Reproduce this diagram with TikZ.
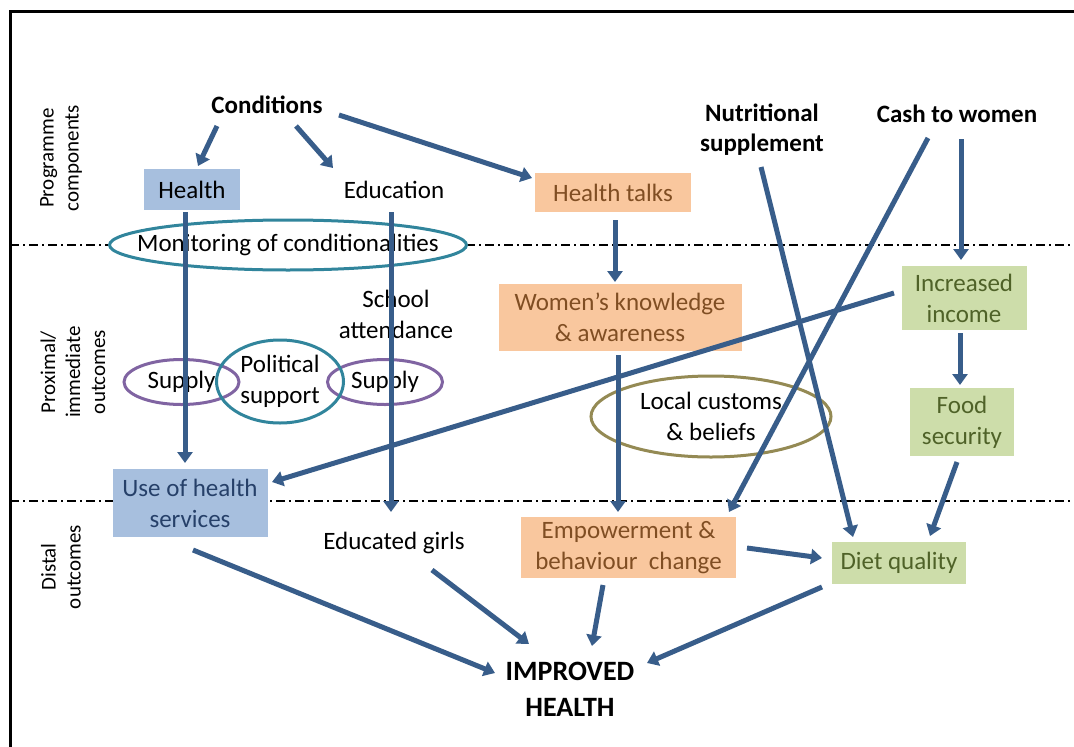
\documentclass[tikz,border=0pt]{standalone}
\usepackage{fontspec}
\setmainfont{Carlito}
\usetikzlibrary{arrows.meta, shapes.geometric}

\definecolor{flowblue}{RGB}{56,93,138}
\definecolor{hsfill}{RGB}{167,191,222}
\definecolor{hstext}{RGB}{38,64,105}
\definecolor{orfill}{RGB}{249,199,158}
\definecolor{ortext}{RGB}{128,78,35}
\definecolor{grfill}{RGB}{205,221,170}
\definecolor{grtext}{RGB}{79,98,40}
\definecolor{ringteal}{RGB}{49,133,156}
\definecolor{ringpurple}{RGB}{128,100,162}
\definecolor{ringolive}{RGB}{148,138,84}

\tikzset{
  flow/.style={draw=flowblue, line width=5pt, -{Triangle[length=11pt,width=15pt]}},
  plain/.style={align=center, inner sep=1pt, font=\fontsize{25}{31}\selectfont},
  strong/.style={plain, font=\fontsize{25}{30}\selectfont\bfseries},
  hsbox/.style={plain, fill=hsfill, text=hstext},
  orbox/.style={plain, fill=orfill, text=ortext},
  grbox/.style={plain, fill=grfill, text=grtext},
  ring/.style={ellipse, draw, line width=3pt, inner sep=0pt},
  ringtext/.style={align=center, font=\fontsize{25}{31}\selectfont},
  phase/.style={line width=1.5pt, dash pattern=on 9pt off 4pt on 2pt off 4pt},
  sidelabel/.style={rotate=90, align=center, font=\fontsize{21}{25}\selectfont},
}

\begin{document}
\begin{tikzpicture}[x=1pt, y=-1pt]
  \fill[white, use as bounding box] (0,0) rectangle (1074,747);
  % frame and phase lines
  \draw[line width=3pt] (10,747) -- (10,11.5) -- (1074,11.5);
  \draw[phase] (10,245) -- (1074,245);
  \draw[phase] (10,501) -- (1074,501);

  % side labels
  \node[sidelabel] (lblprog) at (61,158) {Programme\\components};
  \node[sidelabel] (lblprox) at (73,372) {Proximal/\\immediate\\outcomes};
  \node[sidelabel] (lbldist) at (61,567) {Distal\\outcomes};

  % programme components
  \node[strong] (cond) at (267,105) {Conditions};
  \node[strong] (nutri) at (762,130) {Nutritional\\supplement};
  \node[strong] (cash) at (957,114) {Cash to women};
  \node[hsbox, text=black, minimum width=96pt, minimum height=41pt] (health) at (192,189.5) {Health};
  \node[plain] (educ) at (394,190) {Education};
  \node[orbox, minimum width=156pt, minimum height=39pt] (talks) at (613,192.5) {Health talks};

  % proximal / immediate outcomes
  \node[ring, draw=ringteal, fill=white, minimum width=357pt, minimum height=50pt,
    label={[ringtext]center:Monitoring of conditionalities}] (monit) at (288,245) {};
  \node[plain] (school) at (396,314) {School\\attendance};
  \node[orbox, minimum width=243pt, minimum height=67pt] (women) at (620,317.5) {Women’s knowledge\\\& awareness};
  \node[grbox, minimum width=125pt, minimum height=64pt] (income) at (964,298) {Increased\\income};
  \node[ring, draw=ringpurple, minimum width=115pt, minimum height=45pt,
    label={[ringtext]center:Supply}] (supl) at (181.5,382) {};
  \node[ring, draw=ringpurple, minimum width=115pt, minimum height=45pt,
    label={[ringtext]center:Supply}] (supr) at (385,382) {};
  \node[ring, draw=ringteal, minimum width=127pt, minimum height=83pt,
    label={[ringtext]center:Political\\support}] (polit) at (280,381.5) {};
  \node[ring, draw=ringolive, minimum width=240pt, minimum height=81pt,
    label={[ringtext]center:Local customs\\\& beliefs}] (customs) at (711,416.5) {};
  \node[grbox, minimum width=104pt, minimum height=68pt] (food) at (962,422) {Food\\security};

  % distal outcomes
  \node[hsbox, minimum width=155pt, minimum height=68pt] (usehs) at (190,503) {Use of health\\services};
  \node[plain] (girls) at (394,543) {Educated girls};
  \node[orbox, minimum width=215pt, minimum height=61pt] (empow) at (628.5,547.5) {Empowerment \&\\behaviour\ \ change};
  \node[grbox, minimum width=134pt, minimum height=42pt] (diet) at (899,563) {Diet quality};
  \node[plain, font=\fontsize{28}{36}\selectfont\bfseries] (impr) at (570,689) {IMPROVED\\HEALTH};

  % links
  \draw[flow] ([shift={(-50,21)}]cond.center) -- ([shift={(6,-23.5)}]health.center);
  \draw[flow] ([shift={(29,21)}]cond.center) -- ([shift={(-61,-22)}]educ.center);
  \draw[flow] ([shift={(72,10)}]cond.center) -- ([shift={(-81,-14.5)}]talks.center);
  \draw[flow] ([shift={(-7,22.5)}]health.center) -- ([shift={(-5,-40)}]usehs.center);
  \draw[flow] ([shift={(-3,22)}]educ.center) -- ([shift={(-3,-31)}]girls.center);
  \draw[flow] ([shift={(2,27.5)}]talks.center) -- ([shift={(-5,-35.5)}]women.center);
  \draw[flow] ([shift={(-2,37.5)}]women.center) -- ([shift={(-10.5,-35.5)}]empow.center);
  \draw[flow] ([shift={(4,25)}]cash.center) -- ([shift={(-3,-38)}]income.center);
  \draw[flow] ([shift={(-29,24)}]cash.center) -- ([shift={(100.5,-35.5)}]empow.center);
  \draw[flow] ([shift={(-1,37)}]nutri.center) -- ([shift={(-46,-26)}]diet.center);
  \draw[flow] ([shift={(-70,-5)}]income.center) -- ([shift={(82,-21)}]usehs.center);
  \draw[flow] ([shift={(-4,35)}]income.center) -- ([shift={(-2,-37)}]food.center);
  \draw[flow] ([shift={(-5,40)}]food.center) -- ([shift={(31,-27)}]diet.center);
  \draw[flow] ([shift={(118.5,0.5)}]empow.center) -- ([shift={(-77,-5)}]diet.center);
  \draw[flow] ([shift={(3,47)}]usehs.center) -- ([shift={(-75,-16)}]impr.center);
  \draw[flow] ([shift={(38,27)}]girls.center) -- ([shift={(-41,-45)}]impr.center);
  \draw[flow] ([shift={(-25.5,37.5)}]empow.center) -- ([shift={(22,-43)}]impr.center);
  \draw[flow] ([shift={(-77,24)}]diet.center) -- ([shift={(77,-26)}]impr.center);
\end{tikzpicture}
\end{document}
